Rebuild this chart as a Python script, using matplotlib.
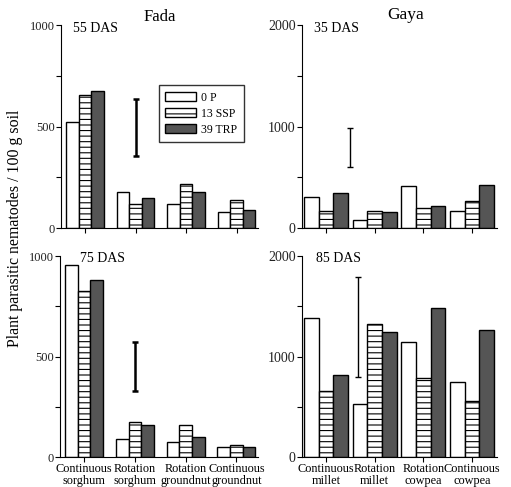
import numpy as np
import matplotlib
matplotlib.use('Agg')
import matplotlib.pyplot as plt
import matplotlib.ticker as mticker

plt.rcParams['font.family'] = ['Liberation Serif', 'DejaVu Serif']
plt.rcParams['hatch.linewidth'] = 0.8

treatments = ['0 P', '13 SSP', '39 TRP']

fada_groups = ['Continuous\nsorghum', 'Rotation\nsorghum', 'Rotation\ngroundnut', 'Continuous\ngroundnut']
gaya_groups = ['Continuous\nmillet', 'Rotation\nmillet', 'Rotation\ncowpea', 'Continuous\ncowpea']

# values per treatment (0 P, 13 SSP, 39 TRP) for each group
fada_55 = [[522, 176, 119, 79],
           [657, 119, 217, 137],
           [677, 148, 176, 87]]
fada_75 = [[955, 91, 76, 50],
           [828, 172, 160, 58],
           [883, 160, 101, 50]]
gaya_35 = [[302, 79, 414, 170],
           [165, 164, 200, 266],
           [343, 155, 217, 424]]
gaya_85 = [[1383, 524, 1144, 746],
           [653, 1327, 789, 554],
           [816, 1244, 1486, 1267]]

# LSD bars: (x position, low, high)
lsd_fada_55 = (1.0, 354, 634)
lsd_fada_75 = (1.0, 329, 572)
lsd_gaya_35 = (0.5, 606, 985)
lsd_gaya_85 = (0.66, 793, 1791)

styles = [dict(facecolor='white', hatch=None),
          dict(facecolor='white', hatch='---'),
          dict(facecolor='#555555', hatch=None)]


def draw_panel(ax, data, groups, lsd, ymax, major, minor, bar_w, xlim, das, show_labels,
               lsd_lw, tick_fs):
    x = np.arange(len(groups))
    for i, vals in enumerate(data):
        ax.bar(x + (i - 1) * bar_w, vals, width=bar_w, edgecolor='black', linewidth=1.0,
               label=treatments[i], **styles[i])

    lx, lo, hi = lsd
    mid = (lo + hi) / 2
    ax.errorbar([lx], [mid], yerr=[[mid - lo], [hi - mid]], fmt='none', ecolor='black',
                elinewidth=lsd_lw, capsize=2.5, capthick=lsd_lw)

    ax.set_xlim(*xlim)
    ax.set_ylim(0, ymax)
    ax.yaxis.set_major_locator(mticker.MultipleLocator(major))
    ax.yaxis.set_minor_locator(mticker.MultipleLocator(minor))
    ax.set_xticks(x)
    if show_labels:
        ax.set_xticklabels(groups, fontsize=8.8, linespacing=1.0)
    else:
        ax.set_xticklabels([])

    for s in ['top', 'right']:
        ax.spines[s].set_visible(False)
    ax.tick_params(axis='both', which='both', direction='out', length=3.5, width=0.8, pad=1)
    ax.tick_params(axis='y', which='major', labelsize=tick_fs, labelcolor='#222222')
    ax.text(das[1], das[2], das[0], transform=ax.transAxes, fontsize=10, va='center', ha='left')


fig = plt.figure(figsize=(5.11, 4.87), dpi=100)

ax1 = fig.add_axes([0.1194, 0.5318, 0.3855, 0.4168])
ax2 = fig.add_axes([0.591, 0.5318, 0.3816, 0.4168])
ax3 = fig.add_axes([0.1174, 0.0616, 0.3875, 0.4127])
ax4 = fig.add_axes([0.591, 0.0616, 0.3816, 0.4127])

draw_panel(ax1, fada_55, fada_groups, lsd_fada_55, 1000, 500, 250, 0.249, (-0.475, 3.425),
           ('55 DAS', 0.06, 0.985), False, 1.8, 9)
draw_panel(ax2, gaya_35, gaya_groups, lsd_gaya_35, 2000, 1000, 500, 0.3, (-0.49, 3.51),
           ('35 DAS', 0.062, 0.985), False, 1.0, 10)
draw_panel(ax3, fada_75, fada_groups, lsd_fada_75, 1000, 500, 250, 0.249, (-0.475, 3.425),
           ('75 DAS', 0.1, 0.99), True, 1.8, 9)
draw_panel(ax4, gaya_85, gaya_groups, lsd_gaya_85, 2000, 1000, 500, 0.3, (-0.49, 3.51),
           ('85 DAS', 0.072, 0.99), True, 1.0, 10)

ax1.text(0.5, 1.0, 'Fada', transform=ax1.transAxes, ha='center', va='bottom', fontsize=12)
ax2.text(0.53, 1.01, 'Gaya', transform=ax2.transAxes, ha='center', va='bottom', fontsize=12.5)

leg = ax1.legend(loc='upper left', bbox_to_anchor=(0.497, 0.704), fontsize=8.5, frameon=True,
                 fancybox=False, edgecolor='black', handlelength=2.6, handleheight=0.85,
                 handletextpad=0.45, borderpad=0.55, labelspacing=0.35, borderaxespad=0)
leg.get_frame().set_linewidth(1.0)

fig.text(0.029, 0.531, 'Plant parasitic nematodes / 100 g soil', rotation=90,
         ha='center', va='center', fontsize=11.4)

fig.savefig('out.png', dpi=100)
